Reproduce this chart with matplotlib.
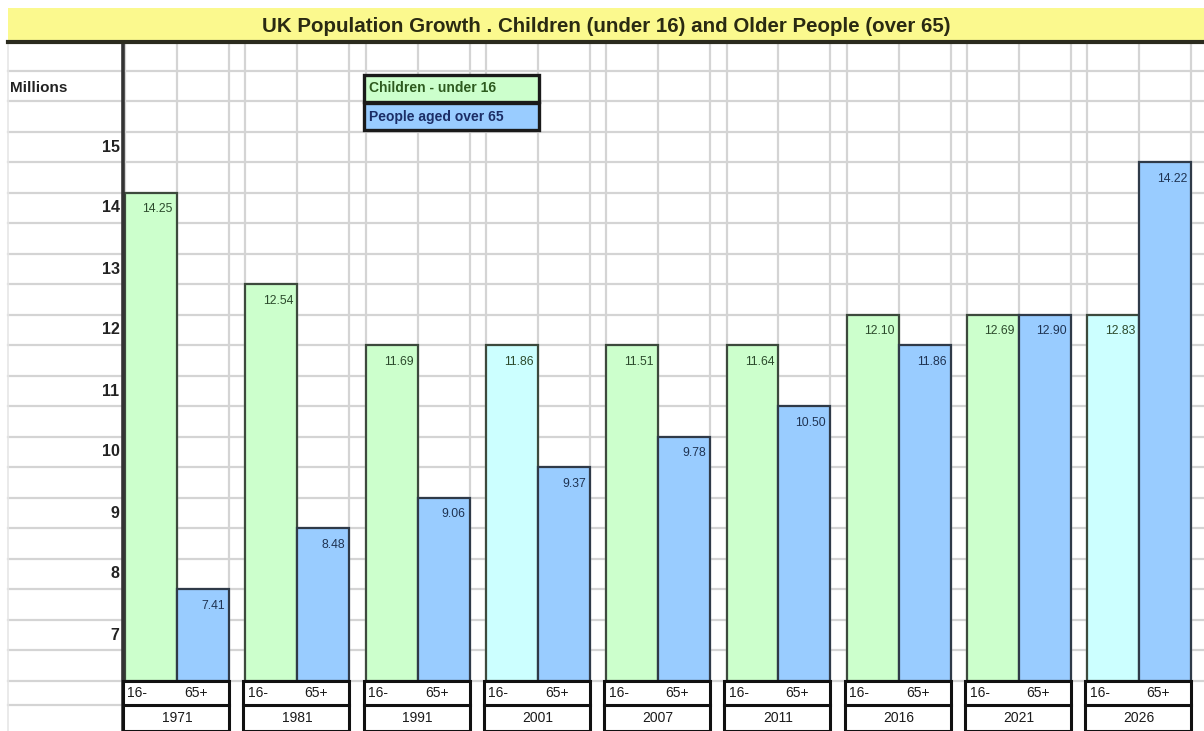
import numpy as np
import matplotlib.pyplot as plt
from matplotlib.patches import Rectangle

plt.rcParams['font.family'] = ['Liberation Sans', 'DejaVu Sans']

years = ['1971', '1981', '1991', '2001', '2007', '2011', '2016', '2021', '2026']
# bar heights as drawn (they snap to the sheet rows)
under16_bar = [14.25, 12.75, 11.75, 11.75, 11.75, 11.75, 12.25, 12.25, 12.25]
over65_bar = [7.75, 8.75, 9.25, 9.75, 10.25, 10.75, 11.75, 12.25, 14.75]
# figures printed on the bars
under16_lbl = [14.25, 12.54, 11.69, 11.86, 11.51, 11.64, 12.10, 12.69, 12.83]
over65_lbl = [7.41, 8.48, 9.06, 9.37, 9.78, 10.50, 11.86, 12.90, 14.22]
yticks = [7, 8, 9, 10, 11, 12, 13, 14, 15]

W, H = 1204, 731
fig = plt.figure(figsize=(W / 100, H / 100), dpi=100)

def fx(x):
    return x / W

def fy(y):
    return 1 - y / H

# title bar
fig.patches.append(Rectangle((fx(8), fy(42)), fx(W - 8), 34 / H, transform=fig.transFigure,
                             facecolor='#fbf98e', edgecolor='none'))
fig.lines.append(plt.Line2D([fx(8), 1], [fy(42), fy(42)], transform=fig.transFigure,
                            color='#2b2b1e', lw=3))
fig.text(fx(606), fy(26), 'UK Population Growth . Children (under 16) and Older People (over 65)',
         ha='center', va='center', fontsize=14.8, fontweight='bold', color='#2a2a12')

ax = fig.add_axes([0, 0, 1, fy(43)])
base = 6.25
bw = 0.432
ax.set_ylim(7 + (635 - 731) / 61, 7 + (635 - 43) / 61)
ax.set_xlim(-125 / 120.3, (W - 125) / 120.3)
ax.axis('off')

# sheet grid
grid_c = '#d4d4d4'
for v in np.arange(base, 16.5, 0.5):
    ax.plot([-0.97, 9], [v, v], color=grid_c, lw=1.6, zorder=0)
ax.plot([-0.97, -0.02], [5.85, 5.85], color=grid_c, lw=1.6, zorder=0)
for i in range(len(years)):
    for e in [i, i + bw, i + 2 * bw]:
        ax.plot([e, e], [base, 17], color=grid_c, lw=1.6, zorder=0)
ax.plot([-0.97, -0.97], [5.4, 17], color='#e6e6e6', lw=1.2, zorder=0)

x = np.arange(len(years))
child_cols = ['#ccffff' if y in ('2001', '2026') else '#ccffcc' for y in years]
ax.bar(x, np.array(under16_bar) - base, bw, bottom=base, align='edge',
       color=child_cols, edgecolor='#3d4a3d', lw=1.6, zorder=2)
ax.bar(x + bw, np.array(over65_bar) - base, bw, bottom=base, align='edge',
       color='#99ccff', edgecolor='#2f3a48', lw=1.6, zorder=2)

for i in range(len(years)):
    ax.text(x[i] + bw - 0.035, under16_bar[i] - 0.27, f'{under16_lbl[i]:.2f}',
            ha='right', va='center', fontsize=8.8, color='#2c4a2c', zorder=3)
    ax.text(x[i] + 2 * bw - 0.035, over65_bar[i] - 0.27, f'{over65_lbl[i]:.2f}',
            ha='right', va='center', fontsize=8.8, color='#1f3352', zorder=3)

# y axis
ax.plot([-0.017, -0.017], [5.4, 17], color='#333333', lw=2.6, zorder=4)
for t in yticks:
    ax.text(-0.045, t, str(t), ha='right', va='center', fontsize=11.5,
            fontweight='bold', color='#222222')
ax.text(-0.955, 7 + (635 - 88) / 61, 'Millions', ha='left', va='center',
        fontsize=11, fontweight='bold', color='#222222')

# category table under the bars
row_mid = 5.85
bottom = 5.43
for i in range(len(years)):
    ax.add_patch(Rectangle((x[i] - 0.017, bottom), 2 * bw + 0.017, base - bottom,
                           facecolor='white', edgecolor='#111111', lw=2.2, zorder=4))
    ax.plot([x[i] - 0.017, x[i] + 2 * bw], [row_mid, row_mid], color='#111111', lw=2.2, zorder=5)
    ax.text(x[i] + 0.02, (base + row_mid) / 2, '16-', ha='left', va='center',
            fontsize=10, color='#1a1a1a', zorder=6)
    ax.text(x[i] + bw + 0.06, (base + row_mid) / 2, '65+', ha='left', va='center',
            fontsize=10, color='#1a1a1a', zorder=6)
    ax.text(x[i] + bw, (row_mid + bottom) / 2, years[i], ha='center', va='center',
            fontsize=10, color='#1a1a1a', zorder=6)

# legend boxes
leg = [('Children - under 16', '#ccffcc', '#2d5a1e'),
       ('People aged over 65', '#99ccff', '#1b2d66')]
for k, (txt, fc, tc) in enumerate(leg):
    y0 = 75 + k * 28
    fig.patches.append(Rectangle((fx(364), fy(y0 + 27)), fx(175), 27 / H, transform=fig.transFigure,
                                 facecolor=fc, edgecolor='#1a1a1a', lw=2.4, zorder=5))
    fig.text(fx(369), fy(y0 + 13.5), txt, ha='left', va='center', fontsize=10,
             fontweight='bold', color=tc, zorder=6)

fig.savefig('out.png', dpi=100)
